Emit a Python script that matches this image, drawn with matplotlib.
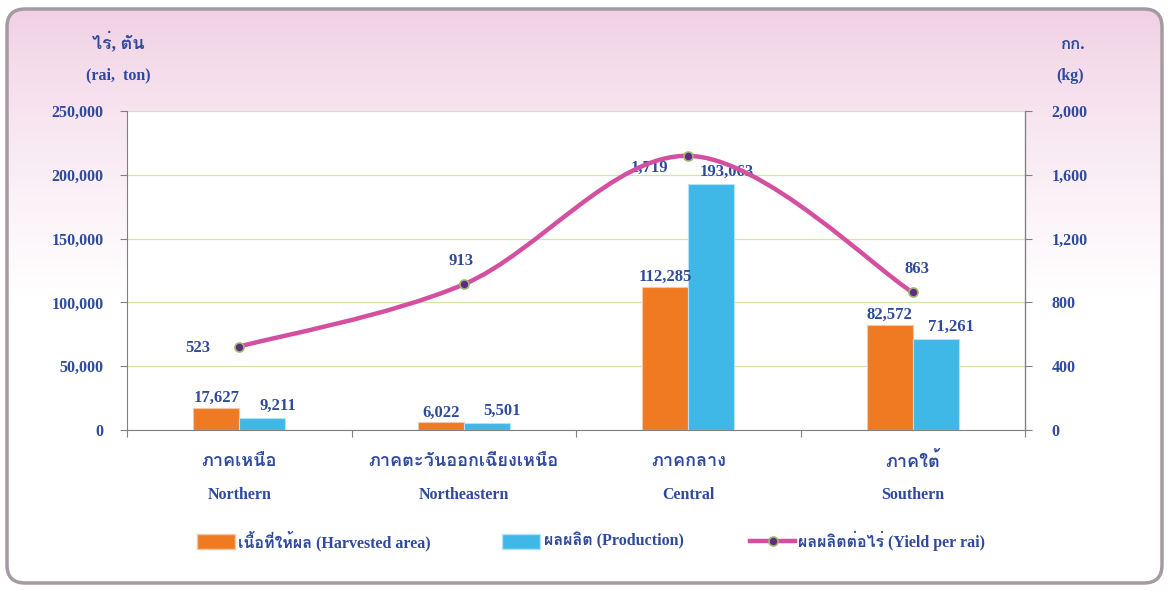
import numpy as np
import matplotlib
matplotlib.use("Agg")
import matplotlib.pyplot as plt
import matplotlib.patches as patches
from matplotlib.path import Path
from matplotlib import font_manager
from matplotlib.ft2font import FT2Font

regions_th = ["ภาคเหนือ", "ภาคตะวันออกเฉียงเหนือ", "ภาคกลาง", "ภาคใต้"]
regions_en = ["Northern", "Northeastern", "Central", "Southern"]
harvested = [17627, 6022, 112285, 82572]
production = [9211, 5501, 193063, 71261]
yield_rai = [523, 913, 1719, 863]
left_ticks = [0, 50000, 100000, 150000, 200000, 250000]
right_ticks = [0, 400, 800, 1200, 1600, 2000]


# find a font that can draw Thai
thai_font = None
for f in font_manager.fontManager.ttflist:
    try:
        if 0x0E01 in FT2Font(f.fname).get_charmap():
            thai_font = f.name
            break
    except Exception:
        pass

serif = "Liberation Serif"
fam = [serif] + ([thai_font] if thai_font else []) + ["DejaVu Sans"]
plt.rcParams['font.family'] = fam
plt.rcParams['font.weight'] = 'bold'

txt = '#2F4A9C'
orange = '#F07A22'
blue = '#3FB8E8'
pink = '#D44FA0'

fig = plt.figure(figsize=(11.68, 5.91), dpi=100)

# background box with pink gradient
bg = fig.add_axes([0, 0, 1, 1])
bg.set_xlim(0, 1168)
bg.set_ylim(591, 0)
bg.axis('off')
grad = np.linspace(0, 1, 256).reshape(-1, 1)
top = np.array([241, 207, 227]) / 255.0
white = np.array([1.0, 1.0, 1.0])
t = np.clip(grad / 0.5, 0, 1) ** 0.8
img = top * (1 - t)[..., None] + white * t[..., None]
img = np.repeat(img, 2, axis=1)
box = patches.FancyBboxPatch((7, 9), 1155, 574, boxstyle="round,pad=0,rounding_size=18",
                             linewidth=2.5, edgecolor='#A39AA2', facecolor='none', zorder=3)
im = bg.imshow(img, extent=(7, 1162, 583, 9), aspect='auto', zorder=1)
clip = patches.FancyBboxPatch((7, 9), 1155, 574, boxstyle="round,pad=0,rounding_size=18",
                              transform=bg.transData, facecolor='none', edgecolor='none')
bg.add_patch(clip)
im.set_clip_path(clip)
bg.add_patch(box)

ax = fig.add_axes([127 / 1168, 1 - 430 / 591, (1025 - 127) / 1168, (430 - 111) / 591])
ax.set_facecolor('white')
ax2 = ax.twinx()

x = np.arange(len(regions_en)) + 0.5
w = 0.205
ax.bar(x - w / 2, harvested, w, color=orange, edgecolor='#F6C7A6', linewidth=0.8, zorder=3)
ax.bar(x + w / 2, production, w, color=blue, edgecolor='#B5E3F5', linewidth=0.8, zorder=3)

for xi, v in zip(x - w / 2, harvested):
    ax.annotate(f"{v:,}", (xi, v), xytext=(0, 1), textcoords='offset points',
                ha='center', va='bottom', fontsize=12, color=txt, fontweight='bold')
for xi, v in zip(x + w / 2, production):
    ax.annotate(f"{v:,}", (xi + 0.07, v), xytext=(0, 3), textcoords='offset points',
                ha='center', va='bottom', fontsize=12, color=txt, fontweight='bold')

ax.set_xlim(0, 4)
ax.set_ylim(0, 250000)
ax.set_yticks(left_ticks)
ax.set_yticklabels([f"{v:,}" for v in left_ticks], fontsize=11.5, color=txt, fontweight='bold')
ax.yaxis.grid(True, color='#D3E4B3', linewidth=0.9)
ax.set_axisbelow(True)
ax.set_xticks([0, 1, 2, 3, 4])
ax.set_xticklabels([])
ax.tick_params(axis='x', length=5, color='#808080', direction='out')
ax.tick_params(axis='y', length=5, color='#808080', pad=12)
for s in ['top']:
    ax.spines[s].set_visible(False)
    ax2.spines[s].set_visible(False)
ax.spines['left'].set_color('#808080')
ax.spines['bottom'].set_color('#808080')
ax2.spines['right'].set_color('#808080')
ax2.spines['left'].set_visible(False)
ax2.spines['bottom'].set_visible(False)

ax2.set_ylim(0, 2000)
ax2.set_yticks(right_ticks)
ax2.set_yticklabels([f"{v:,}" for v in right_ticks], fontsize=11.5, color=txt, fontweight='bold')
ax2.tick_params(axis='y', length=5, color='#808080', pad=14)

# smooth line through the yield points (Catmull-Rom as cubic Bezier)
pts = np.column_stack([x, yield_rai]).astype(float)
verts = [tuple(pts[0])]
codes = [Path.MOVETO]
for i in range(len(pts) - 1):
    p0 = pts[i - 1] if i > 0 else pts[i]
    p1 = pts[i]
    p2 = pts[i + 1]
    p3 = pts[i + 2] if i + 2 < len(pts) else pts[i + 1]
    c1 = p1 + (p2 - p0) / 6.0
    c2 = p2 - (p3 - p1) / 6.0
    verts += [tuple(c1), tuple(c2), tuple(p2)]
    codes += [Path.CURVE4] * 3
ax2.add_patch(patches.PathPatch(Path(verts, codes), facecolor='none', edgecolor=pink,
                                linewidth=3.2, zorder=4))
ax2.plot(x, yield_rai, linestyle='none', marker='o', markersize=6.5,
         markerfacecolor='#5B2C83', markeredgecolor='#9DB86A', markeredgewidth=1.2, zorder=5)

offs = [(-30, -1), (-2, 17), (-28, -9), (3, 17)]
for xi, v, o in zip(x, yield_rai, offs):
    ax2.annotate(f"{v:,}", (xi, v), xytext=o, textcoords='offset points',
                 ha='center', va='center', fontsize=12, color=txt, fontweight='bold')

# category labels
for xi, th, en in zip(x, regions_th, regions_en):
    ax.text(xi, -0.1, th, transform=ax.get_xaxis_transform(), ha='center', va='center',
            fontsize=13, color=txt, fontweight='bold')
    ax.text(xi, -0.205, en, transform=ax.get_xaxis_transform(), ha='center', va='center',
            fontsize=11.5, color=txt, fontweight='bold')

# axis unit labels
bg.text(118, 42, "ไร่, ตัน", ha='center', va='center', fontsize=13, color=txt, fontweight='bold')
bg.text(118, 75, "(rai,  ton)", ha='center', va='center', fontsize=11.5, color=txt, fontweight='bold')
bg.text(1072, 45, "กก.", ha='center', va='center', fontsize=12, color=txt, fontweight='bold')
bg.text(1070, 76, "(kg)", ha='center', va='center', fontsize=11.5, color=txt, fontweight='bold')

# legend
ly = 541
bg.add_patch(patches.Rectangle((197, ly - 7), 38, 15, facecolor=orange, edgecolor='#F6C7A6', zorder=4))
bg.text(238, ly, "เนื้อที่ให้ผล (Harvested area)", ha='left', va='center', fontsize=11.5,
        color=txt, fontweight='bold', zorder=4)
bg.add_patch(patches.Rectangle((502, ly - 7), 38, 15, facecolor=blue, edgecolor='#B5E3F5', zorder=4))
bg.text(544, ly, "ผลผลิต (Production)", ha='left', va='center', fontsize=11.5,
        color=txt, fontweight='bold', zorder=4)
bg.plot([750, 795], [ly, ly], color=pink, linewidth=3.2, zorder=4)
bg.plot([773], [ly], marker='o', markersize=6.5, markerfacecolor='#5B2C83',
        markeredgecolor='#9DB86A', markeredgewidth=1.2, zorder=5)
bg.text(798, ly, "ผลผลิตต่อไร่ (Yield per rai)", ha='left', va='center', fontsize=11.5,
        color=txt, fontweight='bold', zorder=4)

fig.savefig('out.png', dpi=100)
